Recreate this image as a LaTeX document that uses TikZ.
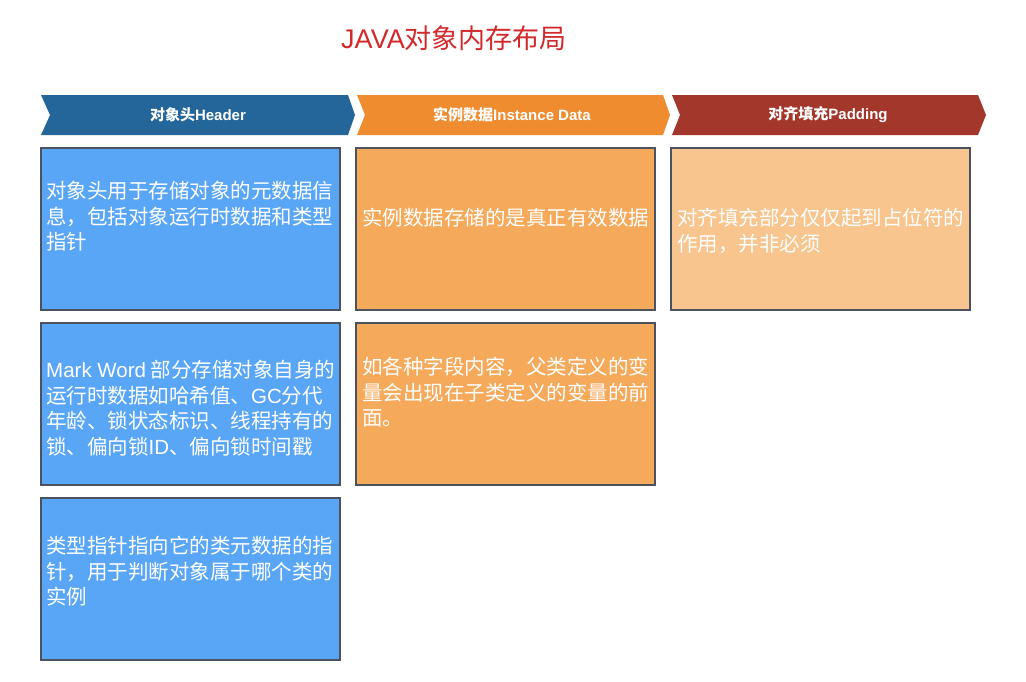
\documentclass[tikz,border=0pt]{standalone}
\usepackage{fontspec}
\setmainfont{Noto Sans CJK SC}
\newfontfamily\lat{Liberation Sans}
\begin{document}
\begin{tikzpicture}[x=1pt,y=-1pt]
\definecolor{titlered}{HTML}{D22A2C}
\definecolor{hblue}{HTML}{24669A}
\definecolor{horange}{HTML}{EF8C30}
\definecolor{hred}{HTML}{A3372C}
\definecolor{bblue}{HTML}{5AA6F6}
\definecolor{borange}{HTML}{F5A95B}
\definecolor{bpeach}{HTML}{F8C58F}
\definecolor{bline}{HTML}{4B5360}
\tikzset{
  cell/.style={draw=bline, line width=1.1pt},
  celltext/.style={anchor=north west, inner sep=0pt, align=left, text=white,
    font=\fontsize{20.5}{25.5}\selectfont},
  headtext/.style={text=white, inner sep=0pt, font=\bfseries\fontsize{15}{18}\selectfont},
}
\useasboundingbox[fill=white] (0,0) rectangle (1026,681);
% title
\node[text=titlered, inner sep=0pt, font=\fontsize{27}{30}\selectfont] (title) at (454,38) {{\lat JAVA}对象内存布局};
% header chevrons
\fill[hblue] (41,95) -- (348,95) -- (355,115) -- (348,135) -- (41,135) -- (50,115) -- cycle;
\fill[horange] (357,95) -- (663,95) -- (670,115) -- (663,135) -- (357,135) -- (365,115) -- cycle;
\fill[hred] (672,95) -- (978,95) -- (986,115) -- (978,135) -- (672,135) -- (680,115) -- cycle;
\node[headtext] (h1) at (198,115) {对象头{\lat\bfseries Header}};
\node[headtext] (h2) at (512,115) {实例数据{\lat\bfseries Instance Data}};
\node[headtext] (h3) at (828,115) {对齐填充{\lat\bfseries Padding}};
% column 1
\draw[cell, fill=bblue] (41,148) rectangle (340,310);
\draw[cell, fill=bblue] (41,323) rectangle (340,485);
\draw[cell, fill=bblue] (41,498) rectangle (340,660);
% column 2
\draw[cell, fill=borange] (356,148) rectangle (655,310);
\draw[cell, fill=borange] (356,323) rectangle (655,485);
% column 3
\draw[cell, fill=bpeach] (671,148) rectangle (970,310);
% texts
\node[celltext] (t1) at (46,181) {对象头用于存储对象的元数据信\\息，包括对象运行时数据和类型\\指针};
\node[celltext] (t2) at (46,360) {{\lat Mark Word} 部分存储对象自身的\\运行时数据如哈希值、{\lat GC}分代\\年龄、锁状态标识、线程持有的\\锁、偏向锁{\lat ID}、偏向锁时间戳};
\node[celltext] (t3) at (46,536) {类型指针指向它的类元数据的指\\针，用于判断对象属于哪个类的\\实例};
\node[celltext] (t4) at (362,208) {实例数据存储的是真正有效数据};
\node[celltext] (t5) at (362,357) {如各种字段内容，父类定义的变\\量会出现在子类定义的变量的前\\面。};
\node[celltext] (t6) at (677,208) {对齐填充部分仅仅起到占位符的\\作用，并非必须};
\end{tikzpicture}
\end{document}
